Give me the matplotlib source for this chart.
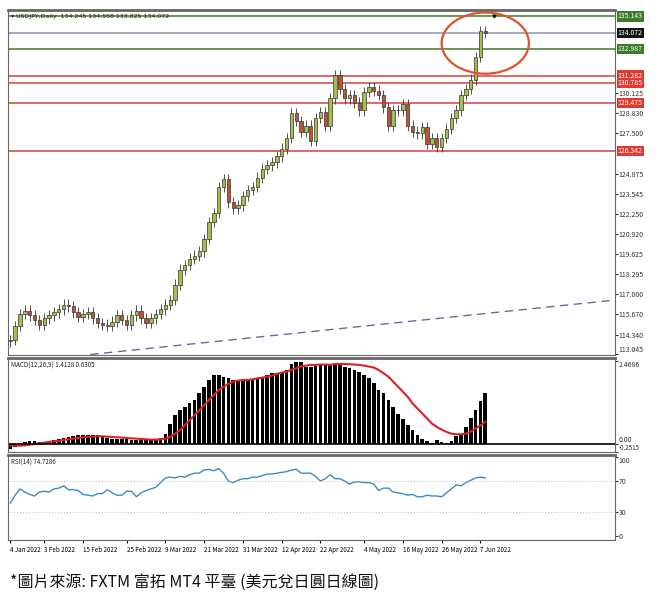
import matplotlib
matplotlib.use("Agg")
import matplotlib.pyplot as plt
from matplotlib.patches import Ellipse, Rectangle
import numpy as np

plt.rcParams['font.family'] = ['Noto Sans CJK TC', 'DejaVu Sans']

closes = [114.0, 114.9, 115.7, 115.9, 115.6, 115.3, 115.0, 115.4, 115.6, 115.8,
          116.0, 116.3, 116.2, 115.8, 115.5, 115.7, 115.8, 115.4, 115.1, 115.0,
          114.9, 115.2, 115.6, 115.3, 115.0, 115.6, 115.9, 115.4, 115.1, 115.4, 115.7,
          116.0, 116.3, 116.6, 117.6, 118.6, 118.9, 119.3, 119.5, 119.8, 120.6, 121.7,
          122.3, 124.0, 124.5, 123.0,
          122.6, 122.8, 123.4, 123.8, 124.0, 124.6, 125.2, 125.4, 125.6, 126.0,
          126.5, 127.2, 128.8, 128.3, 127.6, 128.0, 127.0, 128.5, 128.9, 128.0, 129.8,
          131.3, 130.4, 129.8, 130.0, 129.5, 129.0, 130.2, 130.5, 130.3,
          130.0, 129.2, 128.0, 129.0, 129.0, 129.4, 128.0, 127.6, 127.5, 127.9, 126.8,
          127.2, 126.6,
          127.2, 127.8, 128.5, 129.0, 130.0, 130.4, 131.0, 132.5, 134.2, 134.07]
first_open = 113.9

macd_hist = [-0.15, -0.1, 0, 0.05, 0.07, 0.07, 0.06, 0.06, 0.08, 0.1, 0.14, 0.17, 0.2,
             0.24, 0.26, 0.27, 0.27, 0.27, 0.26, 0.22, 0.18,
             0.15, 0.14, 0.15, 0.13, 0.1, 0.11, 0.13, 0.1, 0.1, 0.12,
             0.18, 0.3, 0.6, 0.85, 1.0, 1.1, 1.2, 1.3, 1.5, 1.7, 1.9, 2.05, 2.05, 2.0, 1.95,
             1.9, 1.9, 1.9, 1.92, 1.93, 1.95, 2.0, 2.05, 2.1, 2.1,
             2.15, 2.2, 2.38, 2.45, 2.45, 2.3, 2.3, 2.35, 2.38, 2.35, 2.35,
             2.38, 2.38, 2.3, 2.25, 2.2, 2.15, 2.05, 1.95, 1.8,
             1.6, 1.5, 1.3, 1.1, 0.9, 0.75, 0.55, 0.4, 0.25, 0.15, 0.07, 0.03, 0.1,
             0.05, 0.02, 0.08, 0.22, 0.3, 0.5, 0.78, 1.0, 1.28, 1.5]
macd_signal = [-0.05, -0.06, -0.06, -0.05, -0.03, -0.01, 0.01, 0.03, 0.05, 0.07, 0.09, 0.11, 0.13,
               0.15, 0.17, 0.19, 0.2, 0.21, 0.22, 0.22, 0.21,
               0.2, 0.19, 0.18, 0.17, 0.16, 0.15, 0.14, 0.13, 0.12, 0.12,
               0.13, 0.15, 0.2, 0.3, 0.4, 0.55, 0.7, 0.85, 1.0, 1.15, 1.3, 1.45, 1.6, 1.7, 1.78,
               1.85, 1.88, 1.9, 1.9, 1.92, 1.95, 1.97, 2.0, 2.03, 2.08,
               2.12, 2.15, 2.2, 2.25, 2.3, 2.33, 2.35, 2.35, 2.36, 2.36, 2.35,
               2.38, 2.38, 2.38, 2.37, 2.36, 2.35, 2.33, 2.3, 2.27,
               2.2, 2.1, 2.0, 1.85, 1.7, 1.55, 1.4, 1.2, 1.05, 0.9, 0.75, 0.6, 0.5,
               0.42, 0.35, 0.3, 0.28, 0.28, 0.3, 0.36, 0.45, 0.55, 0.65]
rsi = [42, 52, 60, 56, 53, 51, 56, 57, 56, 60, 61, 64, 59, 59, 58, 53, 52, 51, 54,
       54, 59, 55, 52, 52, 57, 57, 50, 55, 58, 60, 62, 68, 74, 75, 74, 76, 75, 78, 80,
       80, 84, 85, 83, 86, 80, 70, 68, 71, 73, 73, 75, 75, 77, 79, 79, 80, 81, 82, 84,
       85, 80, 80, 80, 76, 70, 73, 78, 73, 73, 70, 66, 69, 69, 68, 68, 66, 58, 61, 61,
       56, 55, 54, 52, 53, 50, 50, 52, 51, 51, 50, 55, 60, 65, 64, 68, 71, 74, 75, 74]

levels = [135.143, 134.072, 132.987, 131.282, 130.785, 129.475, 126.342]
level_colors = ["#3d7a2a", "#9090b8", "#3d7a2a", "#d8403a", "#d8403a", "#d8403a", "#d8403a"]
level_box = ["#3d7a2a", "#111111", "#3d7a2a", "#e03a30", "#e03a30", "#e03a30", "#e03a30"]
price_ticks = [130.125, 128.830, 127.500, 124.875, 123.545, 122.250, 120.920,
               119.625, 118.295, 117.000, 115.670, 114.340, 113.045]
date_labels = ["4 Jan 2022", "3 Feb 2022", "15 Feb 2022", "25 Feb 2022", "9 Mar 2022",
               "21 Mar 2022", "31 Mar 2022", "12 Apr 2022", "22 Apr 2022", "4 May 2022",
               "16 May 2022", "26 May 2022", "7 Jun 2022"]
date_idx = [0, 7, 15, 24, 32, 40, 48, 56, 64, 73, 81, 89, 97]

n = len(closes)
x = np.arange(n)
opens = [first_open] + closes[:-1]
xlim = (-0.5, 124.7)

fig = plt.figure(figsize=(6.56, 6.02), dpi=100)
axp = fig.add_axes([0.012, 0.41, 0.925, 0.573])
axm = fig.add_axes([0.012, 0.249, 0.925, 0.156])
axr = fig.add_axes([0.012, 0.103, 0.925, 0.141])

for ax in (axp, axm, axr):
    ax.set_xlim(*xlim)
    ax.yaxis.tick_right()
    ax.tick_params(axis='y', labelsize=5, length=2, pad=1, colors="#333333")
    ax.tick_params(axis='x', length=0, labelbottom=False)
    for s in ax.spines.values():
        s.set_color("#666666")
        s.set_linewidth(0.8)
    ax.spines['top'].set_linewidth(2)

# price panel
axp.set_ylim(113.0, 135.55)
for o, c, xi in zip(opens, closes, x):
    lo, hi = min(o, c), max(o, c)
    axp.vlines(xi, lo - 0.35, hi + 0.35, color="#333333", lw=0.6, zorder=2)
    col = "#a4bf4a" if c >= o else "#c0542e"
    axp.add_patch(Rectangle((xi - 0.35, lo), 0.7, max(hi - lo, 0.05), facecolor=col,
                            edgecolor="#333333", lw=0.5, zorder=3))
for lv, lc in zip(levels, level_colors):
    axp.axhline(lv, color=lc, lw=1.1, zorder=1)
axp.plot([16.5, 124.7], [113.045, 116.6], ls=(0, (6, 4)), color="#6a6a9a", lw=1)
axp.set_yticks(price_ticks)
axp.set_yticklabels([f"{t:.3f}" for t in price_ticks])
axp.get_yticklabels()[-1].set_va("bottom")
for lv, bc in zip(levels, level_box):
    axp.text(1.005, lv, f"{lv:.3f}", transform=axp.get_yaxis_transform(), fontsize=5,
             color="white", va="center", ha="left",
             bbox=dict(boxstyle="square,pad=0.15", fc=bc, ec="none"))
axp.text(0.005, 0.99, "▾ USDJPY,Daily  134.245 134.558 133.825 134.072", transform=axp.transAxes,
         fontsize=4.5, va="top", color="#222222", family=['DejaVu Sans'])
axp.add_patch(Ellipse((98.0, 133.4), 18, 4.0, fill=False, ec="#e0522a", lw=1.6, zorder=5))
axp.plot([99.8], [135.2], marker="v", ms=2, color="black")

# MACD panel
axm.set_ylim(-0.2515, 2.55)
axm.bar(x, macd_hist, width=0.75, color="black")
axm.plot(x, macd_signal, color="#e02020", lw=1.5)
axm.axhline(0, color="black", lw=1.2)
axm.set_yticks([2.4686, 0.0, -0.2515])
axm.set_yticklabels(["2.4686", "0.00", "-0.2515"])
labs = axm.get_yticklabels()
labs[0].set_va("top")
labs[1].set_va("bottom")
labs[2].set_va("bottom")
labs[2].set_fontsize(4.5)
axm.text(0.005, 0.96, "MACD(12,26,9) 1.4128 0.6305", transform=axm.transAxes,
         fontsize=4.5, va="top", color="#222222")

# RSI panel
axr.set_ylim(-5, 103)
axr.plot(x[:len(rsi)], rsi[:n], color="#3a8ccc", lw=1)
for lv in (70, 30):
    axr.axhline(lv, color="#bbbbbb", lw=0.7, ls=(0, (1, 2)))
axr.set_yticks([100, 70, 30, 0])
axr.get_yticklabels()[0].set_va("top")
axr.text(0.005, 0.96, "RSI(14) 74.7286", transform=axr.transAxes,
         fontsize=4.5, va="top", color="#222222")
axr.set_xticks(date_idx)
axr.tick_params(axis='x', labelbottom=True, labelsize=4.5, length=2, pad=2)
axr.set_xticklabels(date_labels, ha="left")

fig.text(0.015, 0.033, "*圖片來源: FXTM 富拓 MT4 平臺 (美元兌日圓日線圖)", fontsize=11.5,
         va="center", ha="left", color="#111111")

fig.savefig("out.png", dpi=100)
